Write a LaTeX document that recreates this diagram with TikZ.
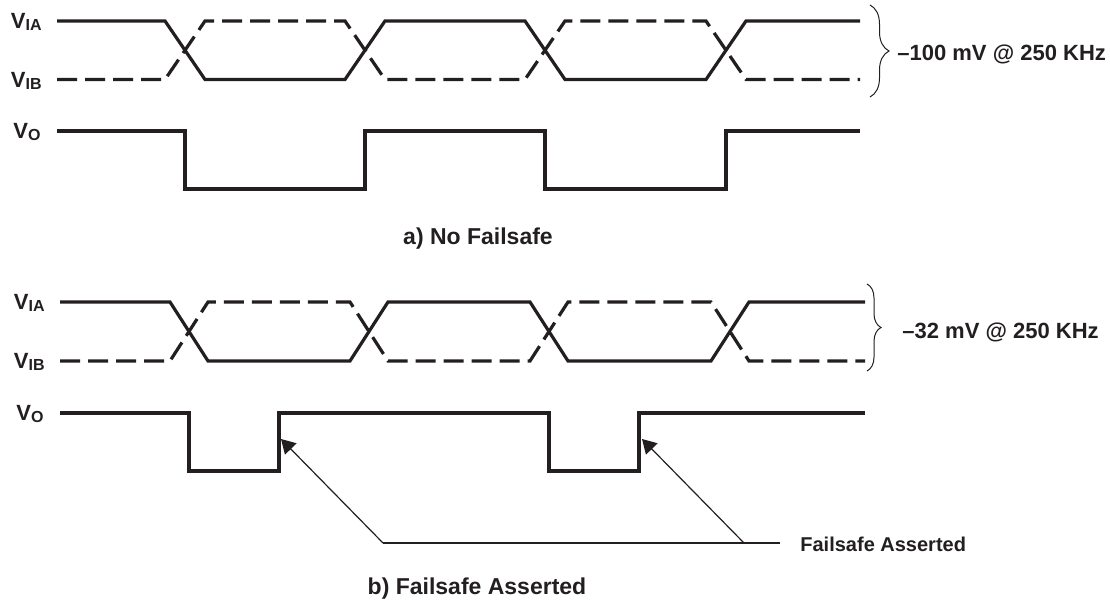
\documentclass[tikz,border=0pt]{standalone}
\usepackage{fontspec}
\setmainfont{Liberation Sans}
\usetikzlibrary{decorations.pathreplacing,arrows.meta}
\definecolor{ink}{RGB}{35,31,32}
\newcommand{\Vsub}[1]{V\raisebox{-1pt}{\fontsize{8}{9}\selectfont #1}}
\begin{document}
\begin{tikzpicture}[x=0.5pt,y=-0.5pt,
  sig/.style={line width=1.6pt, draw=ink},
  sigb/.style={sig, dash pattern=on 10pt off 4pt},
  lbl/.style={font=\fontsize{11}{13}\selectfont\bfseries, inner sep=0pt, text=ink, anchor=base east},
  note/.style={font=\fontsize{11}{13}\selectfont\bfseries, inner sep=0pt, text=ink, anchor=base west},
  capt/.style={font=\fontsize{11.5}{14}\selectfont\bfseries, inner sep=0pt, text=ink, anchor=base},
  small/.style={font=\fontsize{10}{12}\selectfont\bfseries, inner sep=0pt, text=ink, anchor=base west},
  pointer/.style={line width=0.6pt, draw=ink},
  bracestyle/.style={line width=0.5pt, draw=ink, decorate}]
\useasboundingbox (0,0) rectangle (1110,603);

% ---------- a) No Failsafe ----------
\node[lbl] (a1) at (42,28.9) {\Vsub{IA}};
\node[lbl] (a2) at (42,87.4) {\Vsub{IB}};
\node[lbl] (a3) at (41,138.9) {\Vsub{O}};

\draw[sig] (57,21) -- (165,21) -- (205,79.5) -- (345,79.5) -- (385,21) -- (525,21)
  -- (565,79.5) -- (706,79.5) -- (746,21) -- (860,21);
\draw[sigb] (57,79.5) -- (165,79.5) -- (205,21) -- (345,21) -- (385,79.5) -- (525,79.5)
  -- (565,21) -- (706,21) -- (746,79.5) -- (860,79.5);
\draw[sig] (57,131) -- (185,131) -- (185,189) -- (365,189) -- (365,131) -- (545,131)
  -- (545,189) -- (726,189) -- (726,131) -- (860,131);

\draw[bracestyle, decoration={brace, amplitude=9.5pt}] (870,5) -- (870,97);
\node[note] (n1) at (897,60.5) {–100 mV @ 250 KHz};

\node[capt] (c1) at (478,244.5) {a) No Failsafe};

% ---------- b) Failsafe Asserted ----------
\node[lbl] (b1) at (45,310) {\Vsub{IA}};
\node[lbl] (b2) at (45,369) {\Vsub{IB}};
\node[lbl] (b3) at (44,421) {\Vsub{O}};

\draw[sig] (60,302) -- (170,302) -- (208,361) -- (350,361) -- (388,302) -- (530,302)
  -- (568,361) -- (711,361) -- (749,302) -- (865,302);
\draw[sigb] (60,361) -- (170,361) -- (208,302) -- (350,302) -- (388,361) -- (530,361)
  -- (568,302) -- (711,302) -- (749,361) -- (865,361);
\draw[sig] (60,413) -- (189,413) -- (189,471) -- (279,471) -- (279,413) -- (549,413)
  -- (549,471) -- (639,471) -- (639,413) -- (865,413);

\draw[bracestyle, decoration={brace, amplitude=7pt}] (867,284) -- (867,371);
\node[note] (n2) at (902,338.5) {–32 mV @ 250 KHz};

\coordinate (t1) at (281,439);
\coordinate (k1) at (383,543);
\coordinate (t2) at (642,439);
\coordinate (k2) at (744,543);
\coordinate (e) at (780,543);
\draw[pointer] (k1) -- (e);
\draw[pointer, -{Triangle[length=7pt,width=8pt]}] (k1) -- (t1);
\draw[pointer, -{Triangle[length=7pt,width=8pt]}] (k2) -- (t2);
\node[small] (fa) at (800,551.7) {Failsafe Asserted};

\node[capt] (c2) at (477,595) {b) Failsafe Asserted};
\end{tikzpicture}
\end{document}
